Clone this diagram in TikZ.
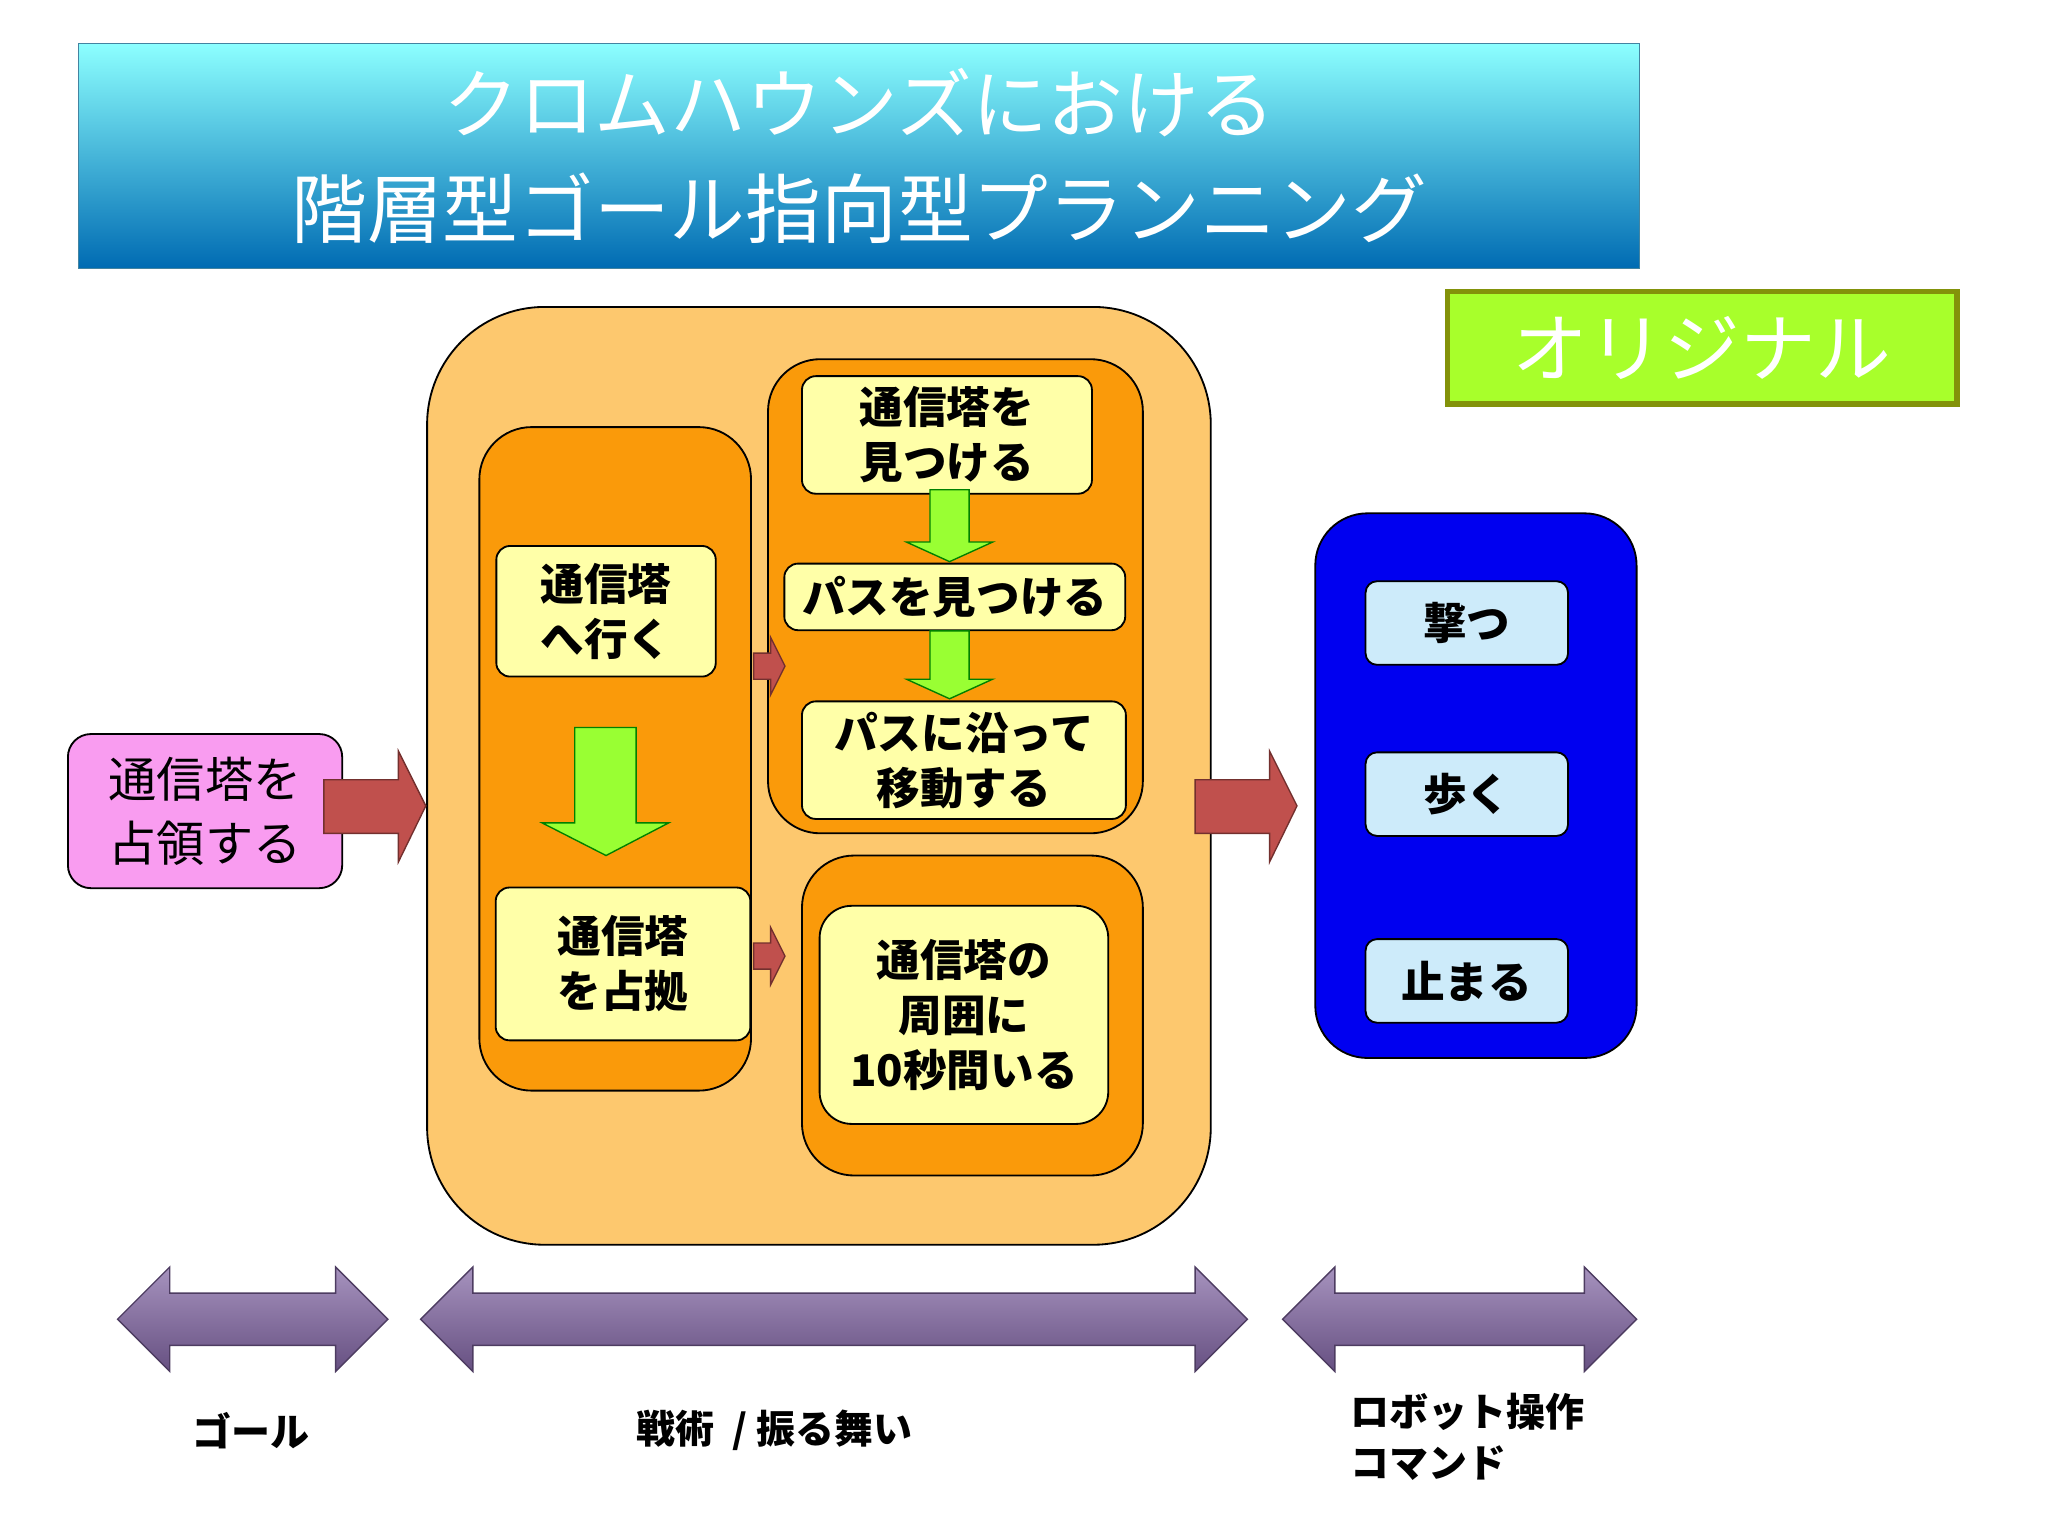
\documentclass[tikz,border=0pt]{standalone}
\usepackage{fontspec}
\setmainfont{Noto Sans CJK JP}
\usetikzlibrary{shapes.arrows}
\definecolor{lor}{HTML}{FDC86E}
\definecolor{dor}{HTML}{FA9A0A}
\definecolor{ylw}{HTML}{FFFFA8}
\definecolor{grn}{HTML}{99FF33}
\definecolor{red}{HTML}{C0504D}
\definecolor{pnk}{HTML}{F99CF0}
\definecolor{blu}{HTML}{0000F0}
\definecolor{lbl}{HTML}{CDEBFA}
\definecolor{pur}{HTML}{8064A2}
\begin{document}
\begin{tikzpicture}[x=0.02cm,y=-0.02cm,
  box/.style={draw=black,line width=0.8pt,rounded corners=6pt,fill=ylw,align=center,font=\fontsize{19}{24}\selectfont\bfseries},
  cont/.style={draw=black,line width=0.8pt},
  garrow/.style={fill=grn,draw=green!50!black,line width=0.6pt},
  rarrow/.style={fill=red,draw=red!60!black,line width=0.6pt},
  parrow/.style={top color=pur!70!white,bottom color=pur!80!black,draw=pur!60!black,line width=0.6pt},
  btn/.style={draw=black,line width=0.8pt,rounded corners=5pt,fill=lbl,font=\fontsize{19}{24}\selectfont\bfseries},
  lab/.style={font=\fontsize{17}{22}\selectfont\bfseries,align=left}]
\useasboundingbox (0,0) rectangle (1568,1176);
% title
\node[draw=cyan!60!black,top color=cyan!45!white,bottom color=cyan!60!blue!70!black,minimum width=1195*0.02cm,minimum height=172*0.02cm,anchor=north west,inner sep=0,
  text=white,align=center,font=\fontsize{33}{46}\selectfont] (title) at (60,33) {クロムハウンズにおける\\階層型ゴール指向型プランニング};
\node[draw=olive!80!green,line width=2.5pt,fill=grn!85!yellow,minimum width=390*0.02cm,minimum height=86*0.02cm,anchor=north west,text=white,font=\fontsize{33}{40}\selectfont] (orig) at (1106,221) {オリジナル};
% containers
\draw[cont,fill=lor,rounded corners=90*0.02cm] (327,235) rectangle (927,953);
\draw[cont,fill=dor,rounded corners=40*0.02cm] (367,327) rectangle (575,835);
\draw[cont,fill=dor,rounded corners=40*0.02cm] (588,275) rectangle (875,638);
\draw[cont,fill=dor,rounded corners=40*0.02cm] (614,655) rectangle (875,900);
% boxes
\node[box,minimum width=168*0.02cm,minimum height=100*0.02cm] (go) at (464,468) {通信塔\\へ行く};
\node[box,minimum width=195*0.02cm,minimum height=117*0.02cm] (occ) at (477,738) {通信塔\\を占拠};
\node[box,minimum width=222*0.02cm,minimum height=90*0.02cm] (find) at (725,333) {通信塔を\\見つける};
\node[box,minimum width=261*0.02cm,minimum height=51*0.02cm] (path) at (731,457) {パスを見つける};
\node[box,minimum width=248*0.02cm,minimum height=90*0.02cm] (move) at (738,582) {パスに沿って\\移動する};
\node[box,rounded corners=14pt,minimum width=221*0.02cm,minimum height=167*0.02cm] (stay) at (738,777) {通信塔の\\周囲に\\10秒間いる};
% green arrows
\draw[garrow] (440,557)--(487,557)--(487,630)--(512,630)--(464,655)--(415,630)--(440,630)--cycle;
\draw[garrow] (712,375)--(742,375)--(742,415)--(760,415)--(727,430)--(694,415)--(712,415)--cycle;
\draw[garrow] (712,483)--(742,483)--(742,520)--(760,520)--(727,535)--(694,520)--(712,520)--cycle;
% small red arrows
\draw[rarrow] (577,500)--(590,500)--(590,488)--(601,510)--(590,532)--(590,520)--(577,520)--cycle;
\draw[rarrow] (577,722)--(590,722)--(590,710)--(601,732)--(590,754)--(590,742)--(577,742)--cycle;
% pink goal
\node[draw=black,line width=0.8pt,fill=pnk,rounded corners=10pt,minimum width=210*0.02cm,minimum height=118*0.02cm,align=center,font=\fontsize{21}{28}\selectfont] (goal) at (157,621) {通信塔を\\占領する};
\draw[rarrow] (248,597)--(305,597)--(305,575)--(326,617)--(305,660)--(305,638)--(248,638)--cycle;
\draw[rarrow] (915,597)--(972,597)--(972,575)--(993,617)--(972,660)--(972,638)--(915,638)--cycle;
% blue
\draw[cont,fill=blu,rounded corners=40*0.02cm] (1007,393) rectangle (1253,810);
\node[btn,minimum width=155*0.02cm,minimum height=64*0.02cm] (shoot) at (1123,477) {撃つ};
\node[btn,minimum width=155*0.02cm,minimum height=64*0.02cm] (walk) at (1123,608) {歩く};
\node[btn,minimum width=155*0.02cm,minimum height=64*0.02cm] (stop) at (1123,751) {止まる};
% purple double arrows
\foreach \a/\b in {90/297,322/955,982/1253}{
 \draw[parrow] (\a,1010)--(\a+40,970)--(\a+40,990)--(\b-40,990)--(\b-40,970)--(\b,1010)--(\b-40,1050)--(\b-40,1030)--(\a+40,1030)--(\a+40,1050)--cycle;}
\node[lab] (l1) at (192,1095) {ゴール};
\node[lab] (l2) at (593,1095) {戦術\ \ / 振る舞い};
\node[lab,anchor=west] (l3) at (1028,1100) {ロボット操作\\コマンド};
\end{tikzpicture}
\end{document}
